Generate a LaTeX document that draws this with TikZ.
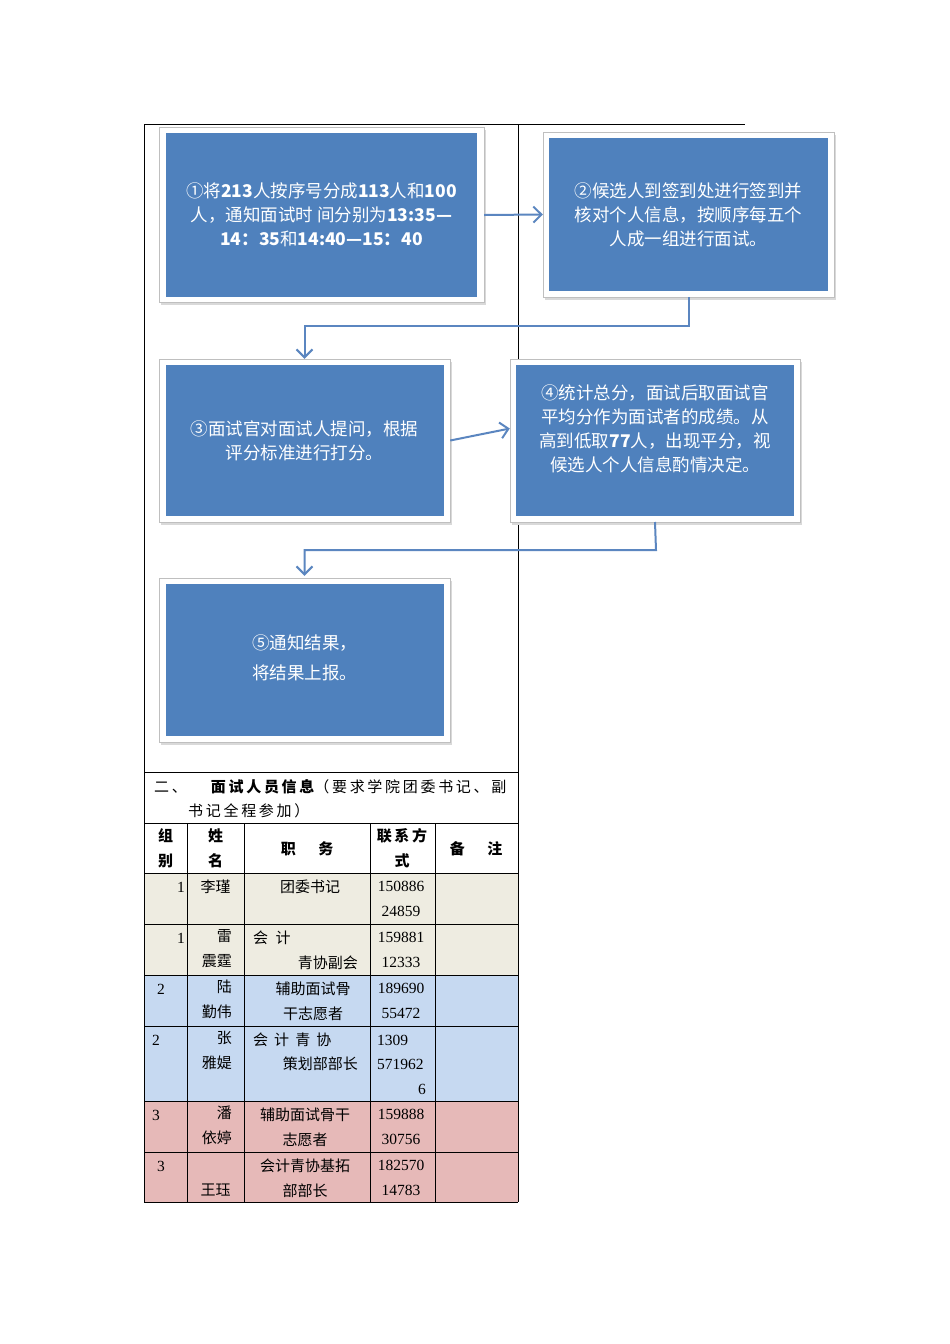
\documentclass[tikz,border=0pt]{standalone}
\usepackage{fontspec}
\setmainfont{Liberation Serif}
\newfontfamily\cjk{Noto Sans CJK SC}
\newfontfamily\cjksp[LetterSpace=18]{Noto Sans CJK SC}
\usetikzlibrary{arrows.meta}
\definecolor{bx}{HTML}{4F81BD}
\definecolor{ar}{HTML}{5B86C0}
\definecolor{rA}{HTML}{EEECE1}
\definecolor{rB}{HTML}{C6D9F1}
\definecolor{rC}{HTML}{E6B9B8}
\tikzset{
 frame/.style={draw=black!25,fill=white,line width=0.6pt},
 bluebox/.style={fill=bx},
 btxt/.style={text=white,font=\cjk\fontsize{17.5}{24}\selectfont,align=center,inner sep=0pt},
 flow/.style={draw=ar,line width=2pt,-{Straight Barb[length=8pt,width=16pt,line width=2pt]}},
 grid/.style={draw=black,line width=0.6pt},
 t/.style={font=\cjk\fontsize{15}{25}\selectfont,inner sep=0pt},
 n/.style={font=\fontsize{15.5}{25}\selectfont,inner sep=0pt},
 hb/.style={t,font=\cjk\bfseries\fontsize{15}{25}\selectfont},
}
\begin{document}
\begin{tikzpicture}[x=1pt,y=-1pt]
\useasboundingbox[fill=white] (0,0) rectangle (950,1344);
\fill[rA] (144,873) rectangle (518,975);
\fill[rB] (144,975) rectangle (518,1101);
\fill[rC] (144,1101) rectangle (518,1202);
\draw[grid] (144,124) -- (745,124);
\draw[grid] (144,124) -- (144,1202);
\draw[grid] (518,124) -- (518,1202);
\draw[grid] (144,772) -- (518,772);
\draw[grid] (144,823) -- (518,823);
\foreach \y in {873,924,975,1026,1101,1152,1202} \draw[grid] (144,\y) -- (518,\y);
\foreach \x in {187,244,370,435} \draw[grid] (\x,823) -- (\x,1202);
\foreach \a/\b/\c/\d in {159/127/484/302, 543/132/834/297, 159/359/450/522, 510/359/800/522, 159/578/450/742}
  {\fill[black!15] (\a+2,\b+3) rectangle (\c+2,\d+3); \draw[frame] (\a,\b) rectangle (\c,\d);}
\fill[bluebox] (166,133) rectangle (477,297);
\node (b1) at (321.5,215) [btxt,minimum width=325,minimum height=175] {①将\textbf{213}人按序号分成\textbf{113}人和\textbf{100}\\人，通知面试时 间分别为\textbf{13:35—}\\\textbf{14：35}和\textbf{14:40—15：40}};
\fill[bluebox] (549,138) rectangle (828,291);
\node (b2) at (688.5,214.5) [btxt,minimum width=291,minimum height=165] {②候选人到签到处进行签到并\\核对个人信息，按顺序每五个\\人成一组进行面试。};
\fill[bluebox] (166,365) rectangle (444,516);
\node (b3) at (304.5,440.5) [btxt,minimum width=291,minimum height=163] {③面试官对面试人提问，根据\\评分标准进行打分。};
\fill[bluebox] (516,365) rectangle (794,516);
\node (b4) at (655,428.5) [btxt,minimum width=290,minimum height=139] {④统计总分，面试后取面试官\\平均分作为面试者的成绩。从\\高到低取\textbf{77}人，出现平分，视\\候选人个人信息酌情决定。};
\fill[bluebox] (166,584) rectangle (444,736);
\node (b5) at (304.5,658) [btxt,minimum width=291,minimum height=164,font=\cjk\fontsize{17.5}{30}\selectfont] {⑤通知结果，\\将结果上报。};
\draw[flow] (b1.east) -- (b2.west);
\draw[flow] (b2.south) -- ++(0,29) -| (b3.north);
\draw[flow] (b3.east) -- (b4.west);
\draw[flow] (b4.south |- 0,522) -- (656,550) -| (b5.north);
\node[t,anchor=west,font=\cjksp\fontsize{15}{25}\selectfont] (h1) at (154,787) {二、\hspace{1.6em}{\bfseries 面试人员信息}（要求学院团委书记、副};
\node[t,anchor=west,font=\cjksp\fontsize{15}{25}\selectfont] (h2) at (188,811) {书记全程参加）};
\node[hb,align=center] at (165.5,848) {组\\别};
\node[hb,align=center] at (215.5,848) {姓\\名};
\node[hb] at (307,849) {职\hspace{1.5em}务};
\node[hb,align=center,font=\cjksp\bfseries\fontsize{15}{25}\selectfont] at (402,848) {联系方\\式};
\node[hb] at (476,849) {备\hspace{1.5em}注};
\node[n,anchor=east] at (185,887) {1};
\node[t] at (215.5,887) {李瑾};
\node[t] at (310,887) {团委书记};
\node[n,align=center] at (401,899) {150886\\24859};
\node[n,anchor=east] at (185,938) {1};
\node[t,align=right,anchor=north east] at (232,929) {雷\\震霆};
\node[t,anchor=west] at (253,938) {会\hspace{0.5em}计};
\node[t,anchor=east] at (358,963) {青协副会};
\node[n,align=center] at (401,950) {159881\\12333};
\node[n,anchor=west] at (157,989) {2};
\node[t,align=right,anchor=north east] at (232,980) {陆\\勤伟};
\node[t,align=center] at (313,1001) {辅助面试骨\\干志愿者};
\node[n,align=center] at (401,1001) {189690\\55472};
\node[n,anchor=west] at (152,1040) {2};
\node[t,align=right,anchor=north east] at (232,1031) {张\\雅媞};
\node[t,anchor=west,font=\cjksp\fontsize{15}{25}\selectfont] at (253,1040) {会 计 青 协};
\node[t,anchor=east] at (358,1064) {策划部部长};
\node[n,anchor=west] at (377,1040) {1309};
\node[n,anchor=west] at (377,1064) {571962};
\node[n,anchor=east] at (426,1089) {6};
\node[n,anchor=west] at (152,1115) {3};
\node[t,align=right,anchor=north east] at (232,1106) {潘\\依婷};
\node[t,align=center] at (305,1127) {辅助面试骨干\\志愿者};
\node[n,align=center] at (401,1127) {159888\\30756};
\node[n,anchor=west] at (157,1166) {3};
\node[t] at (215.5,1190) {王珏};
\node[t,align=center] at (305,1178) {会计青协基拓\\部部长};
\node[n,align=center] at (401,1178) {182570\\14783};
\end{tikzpicture}
\end{document}
